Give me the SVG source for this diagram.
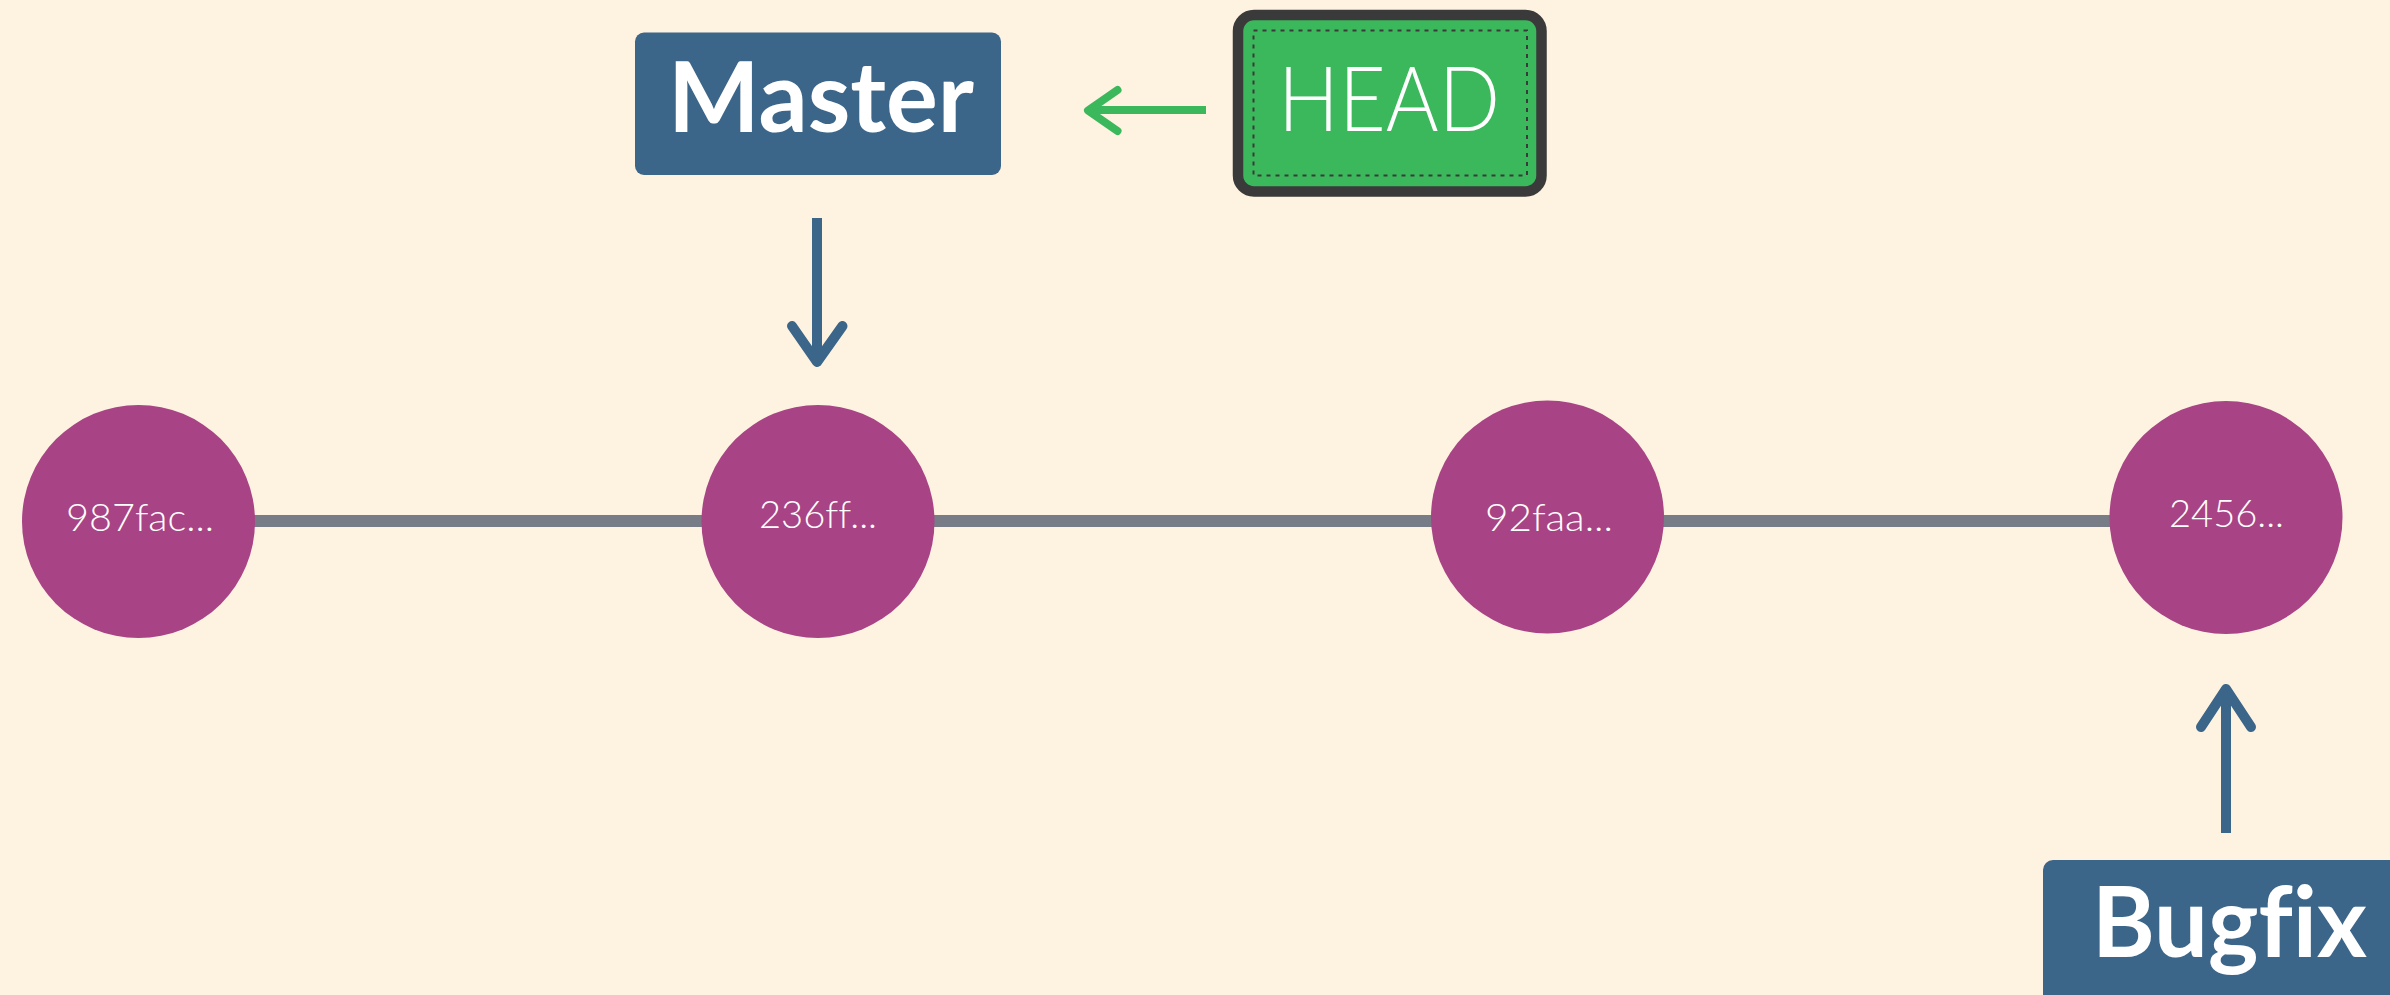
<svg xmlns="http://www.w3.org/2000/svg" width="2390" height="995" viewBox="0 0 2390 995">
  <style>
    text { font-variant-ligatures: none; font-feature-settings: "liga" 0, "clig" 0; }
    .bg { fill: #fef3e1; }
    .label-box { fill: #3b6589; }
    .label-text { font-family: "Lato", "Liberation Sans", sans-serif; font-weight: 700; font-size: 98px; fill: #ffffff; text-anchor: middle; }
    .head-text { font-family: "Lato", "Liberation Sans", sans-serif; font-weight: 300; font-size: 90px; fill: #ffffff; text-anchor: middle; }
    .commit { fill: #a84385; }
    .commit-text { font-family: "Lato", "Liberation Sans", sans-serif; font-weight: 300; font-size: 38px; fill: #ffffff; text-anchor: middle; }
    .edge { stroke: #787c87; stroke-width: 12; fill: none; }
    .ptr { stroke: #3b6589; stroke-width: 10; fill: none; stroke-linejoin: round; }
    .ptr-head { stroke-linecap: round; }
    .head-ptr { stroke: #3cb85c; stroke-width: 8; fill: none; stroke-linejoin: round; }
  </style>
  <rect class="bg" x="0" y="0" width="2390" height="995"/>

  <g id="connectors">
    <line class="edge" x1="250" y1="521" x2="710" y2="521"/>
    <line class="edge" x1="930" y1="521" x2="1440" y2="521"/>
    <line class="edge" x1="1655" y1="521" x2="2118" y2="521"/>
    <g id="master-arrow">
      <path class="ptr" d="M817,218 V362"/>
      <path class="ptr ptr-head" d="M792,326 L817,362 L842.5,326"/>
    </g>
    <g id="bugfix-arrow">
      <path class="ptr" d="M2226,833 V690"/>
      <path class="ptr ptr-head" d="M2201,727 L2226,689 L2251,727"/>
    </g>
    <g id="head-arrow">
      <path class="head-ptr" d="M1206,110 H1090"/>
      <path class="head-ptr ptr-head" d="M1117.5,90 L1088,110.5 L1117.5,131"/>
    </g>
  </g>

  <g id="commit-987fac">
    <circle class="commit" cx="138.5" cy="521.5" r="116.5"/>
    <text class="commit-text" x="140" y="531" textLength="148" lengthAdjust="spacingAndGlyphs">987fac...</text>
  </g>
  <g id="commit-236ff">
    <circle class="commit" cx="818" cy="521.5" r="116.5"/>
    <text class="commit-text" x="818" y="528" textLength="118" lengthAdjust="spacingAndGlyphs">236ff...</text>
  </g>
  <g id="commit-92faa">
    <circle class="commit" cx="1547.5" cy="517" r="116.5"/>
    <text class="commit-text" x="1549" y="531" textLength="128" lengthAdjust="spacingAndGlyphs">92faa...</text>
  </g>
  <g id="commit-2456">
    <circle class="commit" cx="2226" cy="517.5" r="116.5"/>
    <text class="commit-text" x="2226.5" y="527" textLength="115" lengthAdjust="spacingAndGlyphs">2456...</text>
  </g>

  <g id="master">
    <rect class="label-box" x="635" y="32.5" width="366" height="142.5" rx="9"/>
    <text class="label-text" x="821" y="131.5" textLength="306" lengthAdjust="spacingAndGlyphs">Master</text>
  </g>

  <g id="head">
    <rect x="1238" y="15" width="303.5" height="176.5" rx="16" fill="#3cb85c" stroke="#3a3a3a" stroke-width="10.5"/>
    <rect x="1253.5" y="30.5" width="273.5" height="145" fill="none" stroke="#3a3a3a" stroke-width="2" stroke-dasharray="4 5"/>
    <text class="head-text" x="1389" y="131" textLength="222" lengthAdjust="spacingAndGlyphs">HEAD</text>
  </g>

  <g id="bugfix">
    <rect class="label-box" x="2043" y="860" width="400" height="200" rx="10"/>
    <text class="label-text" x="2229.5" y="956.5" textLength="275" lengthAdjust="spacingAndGlyphs">Bugfix</text>
  </g>
</svg>
